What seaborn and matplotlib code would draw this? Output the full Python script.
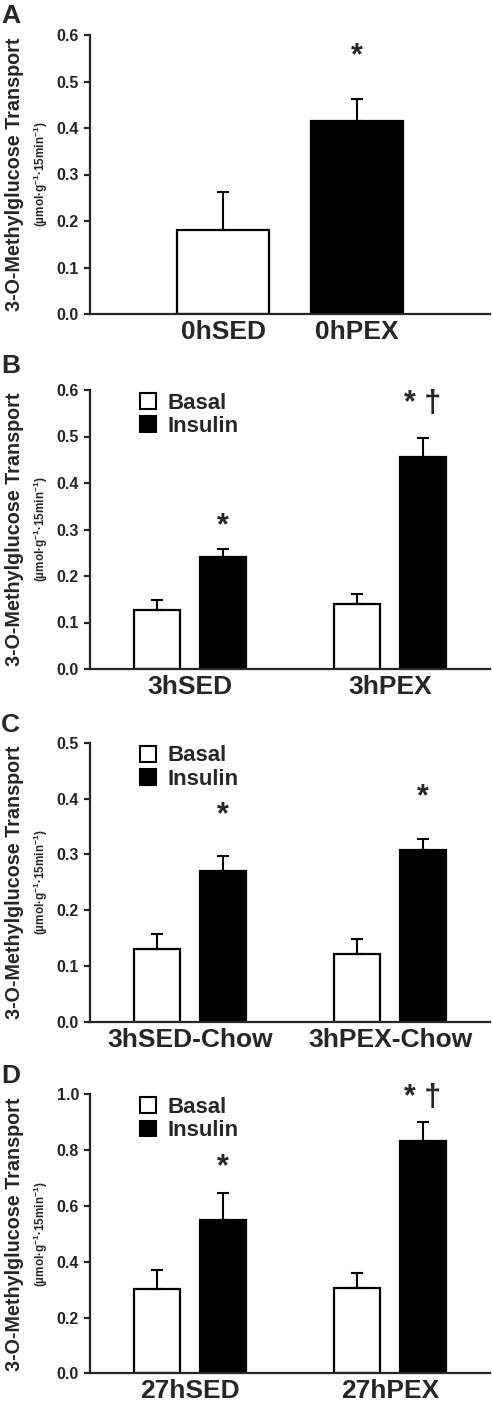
import numpy as np
import pandas as pd
import seaborn as sns
import matplotlib.pyplot as plt
from matplotlib.patches import Patch

# panel A
groups_a = ["0hSED", "0hPEX"]
means_a = [0.180, 0.415]
sem_a = [0.083, 0.048]

# panels B-D: basal / insulin per group
conditions = ["Basal", "Insulin"]
groups_b = ["3hSED", "3hPEX"]
basal_b = [0.127, 0.140]
basal_b_err = [0.021, 0.021]
insulin_b = [0.240, 0.455]
insulin_b_err = [0.018, 0.042]

groups_c = ["3hSED-Chow", "3hPEX-Chow"]
basal_c = [0.130, 0.121]
basal_c_err = [0.027, 0.027]
insulin_c = [0.271, 0.308]
insulin_c_err = [0.027, 0.019]

groups_d = ["27hSED", "27hPEX"]
basal_d = [0.301, 0.306]
basal_d_err = [0.068, 0.052]
insulin_d = [0.549, 0.832]
insulin_d_err = [0.098, 0.070]

# significance marks: (group index, text, y)
marks_a = [(1, "*", 0.563)]
marks_b = [(0, "*", 0.317), (1, "* \u2020", 0.578)]
marks_c = [(0, "*", 0.378), (1, "*", 0.409)]
marks_d = [(0, "*", 0.753), (1, "* \u2020", 1.003)]

sns.set_style("ticks")
plt.rcParams["font.family"] = ["Liberation Sans", "DejaVu Sans"]
plt.rcParams["font.weight"] = "bold"
plt.rcParams["mathtext.fontset"] = "custom"
plt.rcParams["mathtext.rm"] = "Liberation Sans:bold"
plt.rcParams["mathtext.it"] = "Liberation Sans:bold"
plt.rcParams["mathtext.bf"] = "Liberation Sans:bold"

W, H = 492, 1403
fig = plt.figure(figsize=(W / 100, H / 100), dpi=100)

# axes boxes in pixels: top, bottom
boxes = [(35, 314), (390, 669), (742.7, 1022), (1094.3, 1373.3)]
letters = ["A", "B", "C", "D"]
letter_base = [23, 373, 732, 1083]
axes = []
for (top, bot) in boxes:
    axes.append(fig.add_axes([90 / W, 1 - bot / H, 400 / W, (bot - top) / H]))

YLAB = "3-O-Methylglucose Transport"
UNITS = r"(µmol·g$^{-1}$·15min$^{-1}$)"


def style_axis(ax, ymax, step):
    sns.despine(ax=ax)
    for s in ["left", "bottom"]:
        ax.spines[s].set_linewidth(1.6)
    ax.set_ylim(0, ymax)
    ax.set_yticks(np.round(np.arange(0, ymax + step / 2, step), 2))
    ax.set_yticklabels([f"{v:.1f}" for v in ax.get_yticks()], fontsize=11.5, fontweight="bold")
    ax.tick_params(axis="y", length=4, width=1.6, pad=4)
    ax.tick_params(axis="x", length=0, pad=4, labelsize=19)
    for t in ax.get_xticklabels():
        t.set_fontweight("bold")
    ax.set_xlabel("")
    ax.set_ylabel("")
    ax.text(-0.19, 0.5, YLAB, transform=ax.transAxes, rotation=90, ha="center",
            va="center", fontsize=14.2, fontweight="bold")
    ax.text(-0.124, 0.5, UNITS, transform=ax.transAxes, rotation=90, ha="center",
            va="center", fontsize=8.5, fontweight="bold")


def add_errors(ax, errs_by_container):
    for cont, errs in zip(ax.containers, errs_by_container):
        xs = [b.get_x() + b.get_width() / 2 for b in cont.patches]
        ys = [b.get_height() for b in cont.patches]
        ax.errorbar(xs, ys, yerr=[np.zeros(len(errs)), errs], fmt="none",
                    ecolor="black", elinewidth=1.5, capsize=4.5, capthick=1.5, zorder=1)


def add_marks(ax, marks, cont_idx):
    cont = ax.containers[cont_idx]
    for gi, txt, y in marks:
        b = cont.patches[gi]
        ax.annotate(txt, (b.get_x() + b.get_width() / 2, y), xytext=(0, -3),
                    textcoords="offset points", ha="center", va="center",
                    fontsize=22, fontweight="bold", annotation_clip=False)


# panel A
ax = axes[0]
df_a = pd.DataFrame({"group": groups_a, "value": means_a})
sns.barplot(data=df_a, x="group", y="value", hue="group", palette=["white", "black"],
            edgecolor="black", linewidth=1.6, width=0.69, errorbar=None, legend=False, ax=ax)
for cont, e in zip(ax.containers, sem_a):
    b = cont.patches[0]
    ax.errorbar([b.get_x() + b.get_width() / 2], [b.get_height()], yerr=[[0], [e]],
                fmt="none", ecolor="black", elinewidth=1.5, capsize=4.5, capthick=1.5, zorder=1)
for gi, txt, y in marks_a:
    ax.annotate(txt, (gi, y), xytext=(0, -3), textcoords="offset points", ha="center",
                va="center", fontsize=22, fontweight="bold", annotation_clip=False)
ax.set_xlim(-1, 2)
style_axis(ax, 0.6, 0.1)

panels = [
    (axes[1], groups_b, basal_b, basal_b_err, insulin_b, insulin_b_err, marks_b, 0.6, 0.1),
    (axes[2], groups_c, basal_c, basal_c_err, insulin_c, insulin_c_err, marks_c, 0.5, 0.1),
    (axes[3], groups_d, basal_d, basal_d_err, insulin_d, insulin_d_err, marks_d, 1.0, 0.2),
]
for ax, groups, bas, bas_e, ins, ins_e, marks, ymax, step in panels:
    df = pd.DataFrame({
        "group": groups + groups,
        "condition": ["Basal"] * len(groups) + ["Insulin"] * len(groups),
        "value": bas + ins,
    })
    sns.barplot(data=df, x="group", y="value", hue="condition", hue_order=conditions,
                palette=["white", "black"], edgecolor="black", linewidth=1.6,
                width=0.66, gap=0.3, errorbar=None, legend=False, ax=ax)
    add_errors(ax, [bas_e, ins_e])
    add_marks(ax, marks, 1)
    ax.set_xlim(-0.5, 1.5)
    style_axis(ax, ymax, step)
    handles = [Patch(facecolor="white", edgecolor="black", linewidth=1.5),
               Patch(facecolor="black", edgecolor="black", linewidth=1.5)]
    ax.legend(handles, conditions, loc="upper left", bbox_to_anchor=(0.125, 0.99),
              frameon=False, borderpad=0, borderaxespad=0, handlelength=0.72,
              handleheight=0.72, handletextpad=0.5, labelspacing=0.1,
              prop={"size": 16, "weight": "bold"})

for L, yb in zip(letters, letter_base):
    fig.text(1 / W, 1 - yb / H, L, ha="left", va="baseline", fontsize=19, fontweight="bold")

fig.savefig("out.png", dpi=100)
